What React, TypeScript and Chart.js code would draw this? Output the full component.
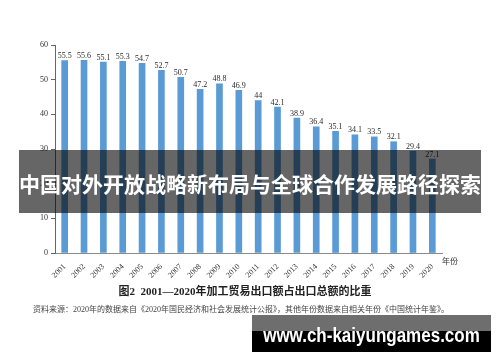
import React, { useEffect, useRef } from "react";
import { Chart, registerables } from "chart.js";

Chart.register(...registerables);

const years = ["2001","2002","2003","2004","2005","2006","2007","2008","2009","2010","2011","2012","2013","2014","2015","2016","2017","2018","2019","2020"];
const shares = [55.5,55.6,55.1,55.3,54.7,52.7,50.7,47.2,48.8,46.9,44,42.1,38.9,36.4,35.1,34.1,33.5,32.1,29.4,27.1];
const yTicks = [0,10,20,30,40,50,60];
const bannerTitle = "中国对外开放战略新布局与全球合作发展路径探索";
const caption = "图2  2001—2020年加工贸易出口额占出口总额的比重";
const sourceNote = "资料来源：2020年的数据来自《2020年国民经济和社会发展统计公报》，其他年份数据来自相关年份《中国统计年鉴》。";
const xAxisUnit = "年份";
const watermark = "www.ch-kaiyungames.com";

const SERIF = "'Liberation Serif', 'Noto Sans CJK SC', serif";

const valueLabels = {
  id: "valueLabels",
  afterDatasetsDraw(chart: any) {
    const ctx = chart.ctx;
    const meta = chart.getDatasetMeta(0);
    ctx.save();
    ctx.font = "8px 'Liberation Serif', serif";
    ctx.fillStyle = "#2a2a2a";
    ctx.textAlign = "center";
    ctx.textBaseline = "bottom";
    meta.data.forEach((bar: any, i: number) => {
      ctx.fillText(String(shares[i]), bar.x, bar.y - 0.5);
    });
    ctx.restore();
  },
};

export default function App() {
  const ref = useRef<HTMLCanvasElement | null>(null);
  useEffect(() => {
    if (!ref.current) return;
    const chart = new Chart(ref.current, {
      type: "bar",
      data: {
        labels: years,
        datasets: [
          {
            data: shares,
            backgroundColor: "#5b9bd5",
            barThickness: 6,
          },
        ],
      },
      options: {
        animation: false,
        responsive: false,
        maintainAspectRatio: false,
        layout: { padding: { left: 0, top: 45, right: 58, bottom: 69 } },
        plugins: { legend: { display: false }, tooltip: { enabled: false } },
        scales: {
          x: {
            grid: { display: false },
            border: { display: true, color: "#8a8a8a", width: 1 },
            ticks: {
              minRotation: 45,
              maxRotation: 45,
              autoSkip: false,
              padding: 1,
              color: "#333",
              font: { family: SERIF, size: 8 },
            },
            afterFit: (s: any) => { s.height = 40; },
          },
          y: {
            min: 0,
            max: 60,
            afterBuildTicks: (s: any) => { s.ticks = yTicks.map((v) => ({ value: v })); },
            grid: { display: true, drawOnChartArea: false, drawTicks: true, tickLength: 4, color: "#666" },
            border: { display: true, color: "#666", width: 1 },
            ticks: {
              padding: 3,
              color: "#333",
              font: { family: SERIF, size: 8 },
            },
            afterFit: (s: any) => { s.width = 55; },
          },
        },
      },
      plugins: [valueLabels],
    });
    return () => chart.destroy();
  }, []);

  return (
    <div style={{ position: "absolute", left: 0, top: 0, width: 500, height: 362, background: "#fff", overflow: "hidden" }}>
      <canvas ref={ref} width={500} height={362} style={{ position: "absolute", left: 0, top: 0, width: 500, height: 362 }} />
      <div style={{ position: "absolute", left: 442, top: 256, fontFamily: "'Noto Sans CJK SC', sans-serif", fontSize: 8, color: "#333", lineHeight: "10px" }}>{xAxisUnit}</div>
      <div style={{ position: "absolute", left: 0, width: 490, top: 284, textAlign: "center", fontFamily: SERIF, fontWeight: "bold", fontSize: 11, color: "#222", lineHeight: "14px", whiteSpace: "pre" }}>{caption}</div>
      <div style={{ position: "absolute", left: 33, top: 304, fontFamily: SERIF, fontSize: 8, color: "#444", lineHeight: "11px", whiteSpace: "nowrap" }}>{sourceNote}</div>
      <div style={{ position: "absolute", left: 19, top: 150, width: 462, height: 63, background: "rgba(0,0,0,0.6)" }} />
      <div style={{ position: "absolute", left: 19, top: 150, width: 462, height: 63, display: "flex", alignItems: "center", justifyContent: "center", paddingTop: 2, boxSizing: "border-box", fontFamily: "'Noto Sans CJK SC', sans-serif", fontWeight: "bold", fontSize: 21, color: "#fff", whiteSpace: "nowrap" }}>{bannerTitle}</div>
      <div style={{ position: "absolute", left: 252, top: 315, width: 239, height: 16, background: "rgba(0,0,0,0.57)" }} />
      <div style={{ position: "absolute", left: 252, top: 331, width: 239, height: 21, background: "#000" }} />
      <div style={{ position: "absolute", left: 252, top: 325, width: 239, height: 22, display: "flex", alignItems: "center", justifyContent: "center", fontFamily: "'Liberation Sans', sans-serif", fontWeight: "bold", fontSize: 17, color: "#fff", whiteSpace: "nowrap", transform: "scaleY(1.15)" }}>{watermark}</div>
    </div>
  );
}
